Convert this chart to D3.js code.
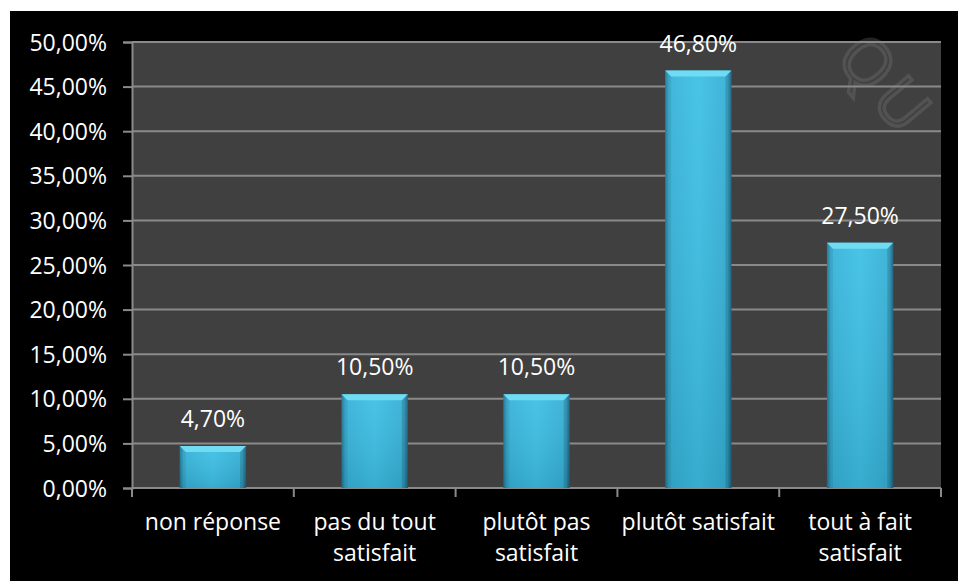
<!DOCTYPE html>
<html lang="fr">
<head>
<meta charset="utf-8">
<style>
  html, body { margin: 0; padding: 0; background: #fff; }
  svg { display: block; }
  text { font-family: "Open Sans", "Noto Sans", sans-serif; fill: #fff; }
</style>
</head>
<body>
<svg id="chart"></svg>
<script src="https://cdn.jsdelivr.net/npm/d3@7"></script>
<script>
const categories = [["non réponse"], ["pas du tout", "satisfait"], ["plutôt pas", "satisfait"], ["plutôt satisfait"], ["tout à fait", "satisfait"]]
const values = [4.7, 10.5, 10.5, 46.8, 27.5]
const yTicks = [0, 5, 10, 15, 20, 25, 30, 35, 40, 45, 50]

const W = 958, H = 581
const plot = { left: 132, right: 941, top: 42, bottom: 488 }
const fmt = v => d3.format(".2f")(v).replace(".", ",") + "%"
const fs = "23px"

const svg = d3.select("#chart").attr("width", W).attr("height", H)

const defs = svg.append("defs")
const side = defs.append("linearGradient").attr("id", "barSide")
side.append("stop").attr("offset", "0%").attr("stop-color", "#1f7fa3")
side.append("stop").attr("offset", "6%").attr("stop-color", "#36b2d8")
side.append("stop").attr("offset", "50%").attr("stop-color", "#3dc0e5")
side.append("stop").attr("offset", "94%").attr("stop-color", "#35afd5")
side.append("stop").attr("offset", "100%").attr("stop-color", "#1c7397")
const vert = defs.append("linearGradient").attr("id", "barShade")
  .attr("x1", 0).attr("y1", 0).attr("x2", 0).attr("y2", 1)
vert.append("stop").attr("offset", "0%").attr("stop-color", "#ffffff").attr("stop-opacity", 0.06)
vert.append("stop").attr("offset", "100%").attr("stop-color", "#000000").attr("stop-opacity", 0.1)

// black frame
svg.append("rect").attr("x", 10).attr("y", 11).attr("width", W - 10).attr("height", H - 11).attr("fill", "#000")

const x = d3.scaleBand().domain(d3.range(values.length)).range([plot.left, plot.right]).padding(0)
const y = d3.scaleLinear().domain([0, 50]).range([plot.bottom, plot.top])

svg.append("rect")
  .attr("x", plot.left).attr("y", plot.top)
  .attr("width", plot.right - plot.left).attr("height", plot.bottom - plot.top)
  .attr("fill", "#404040")

// faint watermark
svg.append("text")
  .attr("transform", "translate(834,58) rotate(50)")
  .attr("font-size", 64)
  .style("fill", "none")
  .attr("stroke", "rgba(128,128,128,0.28)")
  .attr("stroke-width", 3.5)
  .attr("letter-spacing", 6)
  .text("QU")

// gridlines
svg.append("g").selectAll("line").data(yTicks.filter(t => t > 0)).join("line")
  .attr("x1", plot.left).attr("x2", plot.right)
  .attr("y1", d => y(d)).attr("y2", d => y(d))
  .attr("stroke", "#8a8a8a").attr("stroke-width", 2)

// y axis
const yAxis = svg.append("g").attr("transform", `translate(${plot.left},0)`)
  .call(d3.axisLeft(y).tickValues(yTicks).tickFormat(fmt).tickSize(9).tickPadding(16))
yAxis.select(".domain").attr("stroke", "#8a8a8a").attr("stroke-width", 2)
yAxis.selectAll(".tick line").attr("stroke", "#8a8a8a").attr("stroke-width", 2)
yAxis.selectAll(".tick text").attr("fill", "#fff").style("font-size", fs)
  .attr("font-family", null).attr("dy", "0.35em")

// x axis
const xAxis = svg.append("g").attr("transform", `translate(0,${plot.bottom})`)
xAxis.append("line").attr("x1", plot.left).attr("x2", plot.right)
  .attr("stroke", "#8a8a8a").attr("stroke-width", 2)
xAxis.selectAll(".xt").data(d3.range(values.length + 1)).join("line")
  .attr("x1", d => plot.left + d * x.step()).attr("x2", d => plot.left + d * x.step())
  .attr("y1", 0).attr("y2", 9)
  .attr("stroke", "#8a8a8a").attr("stroke-width", 2)

svg.append("g").selectAll("text").data(categories).join("text")
  .attr("text-anchor", "middle")
  .attr("x", (d, i) => x(i) + x.bandwidth() / 2)
  .attr("y", 530)
  .style("font-size", fs)
  .selectAll("tspan").data(d => d).join("tspan")
  .attr("x", function () { return d3.select(this.parentNode).attr("x") })
  .attr("dy", (d, i) => i === 0 ? 0 : 31)
  .text(d => d)

// bars
const bw = x.bandwidth() * 0.41
const bev = 6
const bars = svg.append("g").selectAll("g").data(values).join("g")
  .attr("transform", (d, i) => `translate(${x(i) + (x.bandwidth() - bw) / 2},0)`)

bars.append("rect")
  .attr("y", d => y(d)).attr("width", bw).attr("height", d => y(0) - y(d))
  .attr("fill", "url(#barSide)")
bars.append("rect")
  .attr("y", d => y(d)).attr("width", bw).attr("height", d => y(0) - y(d))
  .attr("fill", "url(#barShade)")
// top bevel
bars.append("path")
  .attr("d", d => `M0,${y(d)}L${bw},${y(d)}L${bw - bev},${y(d) + bev}L${bev},${y(d) + bev}Z`)
  .attr("fill", "#6fdcf4")
// left / right bevel
bars.append("path")
  .attr("d", d => `M0,${y(d)}L${bev},${y(d) + bev}L${bev},${y(0)}L0,${y(0)}Z`)
  .attr("fill", "#000").attr("opacity", 0.08)
bars.append("path")
  .attr("d", d => `M${bw},${y(d)}L${bw - bev},${y(d) + bev}L${bw - bev},${y(0)}L${bw},${y(0)}Z`)
  .attr("fill", "#000").attr("opacity", 0.15)

// value labels
svg.append("g").selectAll("text").data(values).join("text")
  .attr("text-anchor", "middle")
  .attr("x", (d, i) => x(i) + x.bandwidth() / 2)
  .attr("y", d => y(d) - 19)
  .style("font-size", fs)
  .text(fmt)
</script>
</body>
</html>
